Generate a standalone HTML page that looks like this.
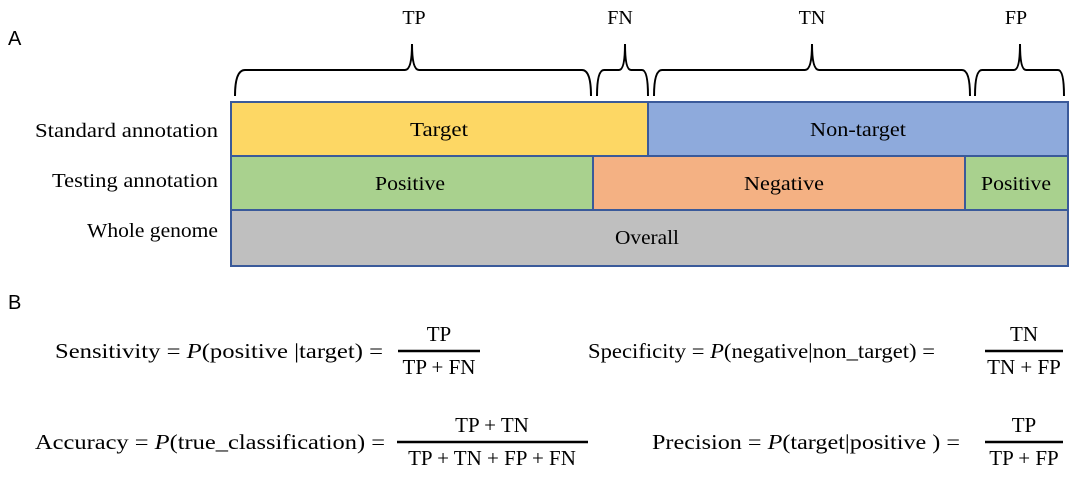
<!DOCTYPE html>
<html><head><meta charset="utf-8"><style>
body{margin:0;background:#fff;}
svg{display:block;font-family:"Liberation Serif",serif;}
.s{font-family:"Liberation Sans",sans-serif;}
</style></head><body>
<svg width="1080" height="478" viewBox="0 0 1080 478">
<text class="s" x="8" y="45" font-size="20">A</text>
<text class="s" x="8" y="309" font-size="20">B</text>
<g fill="none" stroke="#000" stroke-width="2">
<path d="M235,96 Q235,70 245,70 L405,70 Q412,70 412,44 Q412,70 419,70 L582,70 Q591,70 591,96"/>
<path d="M597,96 Q597,70 604,70 L619,70 Q625,70 625,44 Q625,70 631,70 L642,70 Q648,70 648,96"/>
<path d="M654,96 Q654,70 662,70 L805,70 Q812,70 812,44 Q812,70 819,70 L962,70 Q970,70 970,96"/>
<path d="M975,96 Q975,70 982,70 L1014,70 Q1020,70 1020,44 Q1020,70 1026,70 L1058,70 Q1064,70 1064,96"/>
</g>
<g font-size="20" text-anchor="middle">
<text x="414" y="24">TP</text>
<text x="620" y="24">FN</text>
<text x="812" y="24">TN</text>
<text x="1016" y="24">FP</text>
</g>
<g stroke="#3a5a9a" stroke-width="2">
<rect x="231" y="102" width="417" height="54" fill="#fdd764"/>
<rect x="648" y="102" width="420" height="54" fill="#8eaadc"/>
<rect x="231" y="156" width="362" height="54" fill="#a9d18e"/>
<rect x="593" y="156" width="372" height="54" fill="#f4b183"/>
<rect x="965" y="156" width="103" height="54" fill="#a9d18e"/>
<rect x="231" y="210" width="837" height="56" fill="#bfbfbf"/>
</g>
<g font-size="20" text-anchor="middle">
<text x="439" y="136" textLength="58" lengthAdjust="spacingAndGlyphs">Target</text>
<text x="858" y="136" textLength="96" lengthAdjust="spacingAndGlyphs">Non-target</text>
<text x="410" y="190" textLength="70" lengthAdjust="spacingAndGlyphs">Positive</text>
<text x="784" y="190" textLength="80" lengthAdjust="spacingAndGlyphs">Negative</text>
<text x="1016" y="190" textLength="70" lengthAdjust="spacingAndGlyphs">Positive</text>
<text x="647" y="244" textLength="64" lengthAdjust="spacingAndGlyphs">Overall</text>
</g>
<g font-size="20">
<text x="35" y="137" textLength="183" lengthAdjust="spacingAndGlyphs">Standard annotation</text>
<text x="52" y="187" textLength="166" lengthAdjust="spacingAndGlyphs">Testing annotation</text>
<text x="87" y="237" textLength="131" lengthAdjust="spacingAndGlyphs">Whole genome</text>
</g>
<g font-size="21">
<text x="55" y="358" textLength="328" lengthAdjust="spacingAndGlyphs">Sensitivity = <tspan font-style="italic">P</tspan>(positive |target) =</text>
<text x="588" y="358" textLength="347" lengthAdjust="spacingAndGlyphs">Specificity = <tspan font-style="italic">P</tspan>(negative|non_target) =</text>
<text x="35" y="449" textLength="350" lengthAdjust="spacingAndGlyphs">Accuracy = <tspan font-style="italic">P</tspan>(true_classification) =</text>
<text x="652" y="449" textLength="308" lengthAdjust="spacingAndGlyphs">Precision = <tspan font-style="italic">P</tspan>(target|positive ) =</text>
</g>
<g stroke="#000" stroke-width="2.5">
<line x1="398" y1="351" x2="480" y2="351"/><line x1="985" y1="351" x2="1063" y2="351"/>
<line x1="397" y1="442" x2="588" y2="442"/><line x1="985" y1="442" x2="1063" y2="442"/>
</g>
<g font-size="21" text-anchor="middle">
<text x="439" y="341">TP</text><text x="439" y="374">TP + FN</text>
<text x="1024" y="341">TN</text><text x="1024" y="374">TN + FP</text>
<text x="492" y="432">TP + TN</text><text x="492" y="465">TP + TN + FP + FN</text>
<text x="1024" y="432">TP</text><text x="1024" y="465">TP + FP</text>
</g>
</svg>
</body></html>
